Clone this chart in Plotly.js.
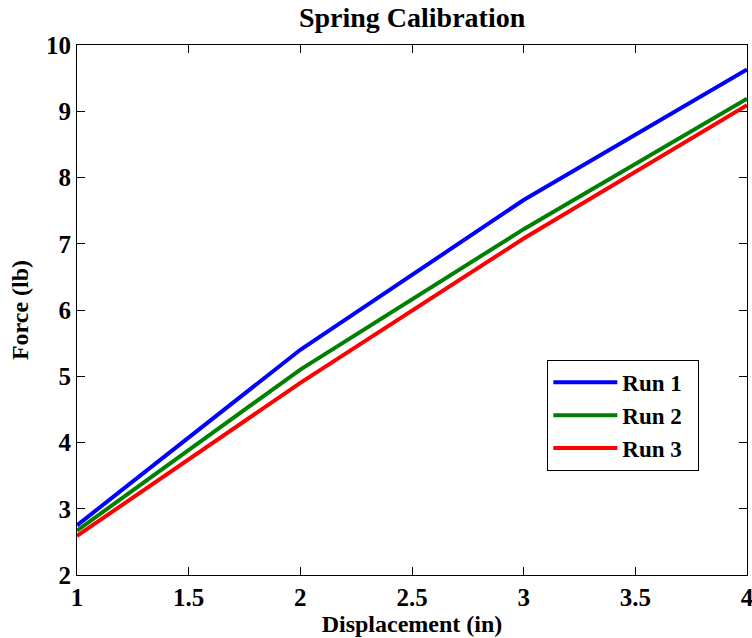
<!DOCTYPE html>
<html><head><meta charset="utf-8">
<script src="https://cdn.plot.ly/plotly-3.0.1.min.js"></script>
<style>body{margin:0;padding:0;background:#fff}#chart{width:752px;height:638px}</style>
</head><body><div id="chart"></div>
<script>
const displacement = [1, 2, 3, 4];
const run1 = [2.75, 5.40, 7.66, 9.63];
const run2 = [2.67, 5.10, 7.22, 9.19];
const run3 = [2.59, 4.90, 7.08, 9.09];
const seriesNames = ['Run 1', 'Run 2', 'Run 3'];
const seriesColors = ['#0000ff', '#008000', '#ff0000'];
const xTicks = [1, 1.5, 2, 2.5, 3, 3.5, 4];
const yTicks = [2, 3, 4, 5, 6, 7, 8, 9, 10];

const font = {family: 'Liberation Serif, Times New Roman, serif', color: '#000'};
const traces = [run1, run2, run3].map((ys, i) => ({
  x: displacement, y: ys, type: 'scatter', mode: 'lines', name: '<b>' + seriesNames[i] + '</b>\u00a0\u00a0',
  line: {color: seriesColors[i], width: 4}
}));
const axisCommon = {
  showgrid: false, zeroline: false, showline: true, linecolor: '#000', linewidth: 1,
  mirror: 'ticks', ticks: 'inside', ticklen: 8, tickcolor: '#000', tickwidth: 1,
  ticklabeloverflow: 'allow',
  tickfont: Object.assign({}, font, {size: 25, weight: 'bold'})
};
const layout = {
  width: 752, height: 638,
  margin: {l: 77, r: 5, t: 45, b: 63},
  paper_bgcolor: '#fff', plot_bgcolor: '#fff',
  font: font,
  title: {text: '<b>Spring Calibration</b>', font: Object.assign({}, font, {size: 28}), x: 0.548, xanchor: 'center', y: 0.973, yanchor: 'middle'},
  xaxis: Object.assign({}, axisCommon, {range: [1, 4], tickvals: xTicks, ticktext: xTicks.map(String),
    title: {text: '<b>Displacement (in)</b>', font: Object.assign({}, font, {size: 24}), standoff: 2}}),
  yaxis: Object.assign({}, axisCommon, {range: [2, 10], tickvals: yTicks, ticktext: yTicks.map(String),
    title: {text: '<b>Force (lb)</b>', font: Object.assign({}, font, {size: 24}), standoff: 10}}),
  showlegend: true,
  legend: {x: 0.702, y: 0.406, xanchor: 'left', yanchor: 'top', bgcolor: '#fff', bordercolor: '#000', borderwidth: 1,
    font: Object.assign({}, font, {size: 23, weight: 'bold'}), itemwidth: 64, tracegroupgap: 0}
};
Plotly.newPlot('chart', traces, layout, {displayModeBar: false, staticPlot: true});
</script></body></html>
